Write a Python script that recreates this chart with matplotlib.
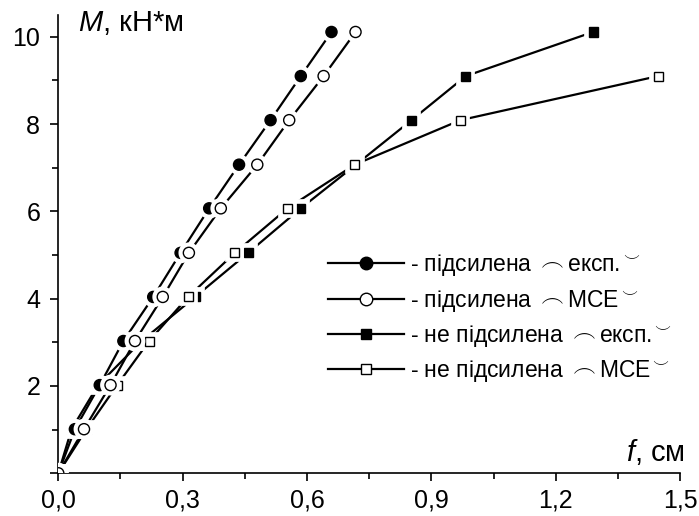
import matplotlib.pyplot as plt
import matplotlib.patheffects as pe
from matplotlib.lines import Line2D
from matplotlib.ticker import MultipleLocator, FuncFormatter

plt.rcParams['font.family'] = ['Liberation Sans', 'DejaVu Sans']
plt.rcParams['mathtext.fontset'] = 'custom'
plt.rcParams['mathtext.rm'] = 'Liberation Sans'
plt.rcParams['mathtext.it'] = 'Liberation Sans:italic'

# bending moment M, kN*m (same load steps for every series)
moment = [0, 1.01, 2.02, 3.03, 4.04, 5.05, 6.07, 7.07, 8.09, 9.10, 10.11]

# deflection f, cm
f_str_exp = [0, 0.040, 0.100, 0.157, 0.229, 0.295, 0.364, 0.436, 0.512, 0.585, 0.659]
f_str_fem = [0, 0.062, 0.126, 0.185, 0.252, 0.315, 0.392, 0.480, 0.557, 0.640, 0.717]
f_plain_exp = [0, 0.032, 0.096, 0.201, 0.330, 0.458, 0.585, 0.718, 0.852, 0.983, 1.290]
f_plain_fem = [0, 0.068, 0.142, 0.219, 0.313, 0.426, 0.553, 0.715, 0.970, 1.447]

labels = [r'- підсилена ${\frown}$експ.${}^{\smile}$',
          r'- підсилена ${\frown}$МСЕ${}^{\smile}$',
          r'- не підсилена ${\frown}$експ.${}^{\smile}$',
          r'- не підсилена ${\frown}$МСЕ${}^{\smile}$']

fig = plt.figure(figsize=(6.99, 5.16), dpi=100)
ax = fig.add_axes([0.0834, 0.0828, 0.8896, 0.8882])

series = [
    (f_plain_exp, moment, 's', 'black', 6.5),
    (f_plain_fem, moment[:len(f_plain_fem)], 's', 'white', 6.5),
    (f_str_exp, moment, 'o', 'black', 8),
    (f_str_fem, moment, 'o', 'white', 8),
]

halo = [pe.withStroke(linewidth=7, foreground='white')]
for x, y, m, fc, ms in series:
    ax.plot(x, y, '-', color='black', lw=1.6, zorder=2)
for x, y, m, fc, ms in series:
    ax.plot(x, y, linestyle='none', marker=m, ms=ms, mfc=fc, mec='black',
            mew=1.0, zorder=3, path_effects=halo)

# legend handles in the original order
order = [2, 3, 0, 1]
handles = []
for i in order:
    _, _, m, fc, ms = series[i]
    handles.append(Line2D([], [], color='black', lw=1.6, marker=m, ms=ms + 1,
                          mfc=fc, mec='black', mew=1.0))
ax.legend(handles, labels, loc='upper left', bbox_to_anchor=(0.434, 0.482),
          frameon=False, fontsize=16.5, handlelength=3.3, handletextpad=0.25,
          labelspacing=0.4, borderpad=0, borderaxespad=0)

ax.set_xlim(0, 1.5)
ax.set_ylim(0, 10.5)
ax.xaxis.set_major_locator(MultipleLocator(0.3))
ax.xaxis.set_minor_locator(MultipleLocator(0.15))
ax.yaxis.set_major_locator(MultipleLocator(2))
ax.yaxis.set_minor_locator(MultipleLocator(1))
ax.xaxis.set_major_formatter(FuncFormatter(lambda v, p: f'{v:.1f}'.replace('.', ',')))
ax.yaxis.set_major_formatter(FuncFormatter(lambda v, p: '' if v == 0 else f'{v:.0f}'))

for s in ['top', 'right']:
    ax.spines[s].set_visible(False)
for s in ['left', 'bottom']:
    ax.spines[s].set_linewidth(1.2)
ax.tick_params(which='major', direction='out', length=6, width=1.2, labelsize=18)
ax.tick_params(axis='x', which='major', pad=5)
ax.tick_params(axis='y', which='major', pad=7)
ax.tick_params(which='minor', direction='out', length=4, width=1.2)

ax.text(0.032, 0.982, r'$M$, кН*м', transform=ax.transAxes, fontsize=21,
        ha='left', va='center')
ax.text(1.008, 0.047, r'$f$, см', transform=ax.transAxes, fontsize=21,
        ha='right', va='center')

fig.savefig('out.png', dpi=100)
